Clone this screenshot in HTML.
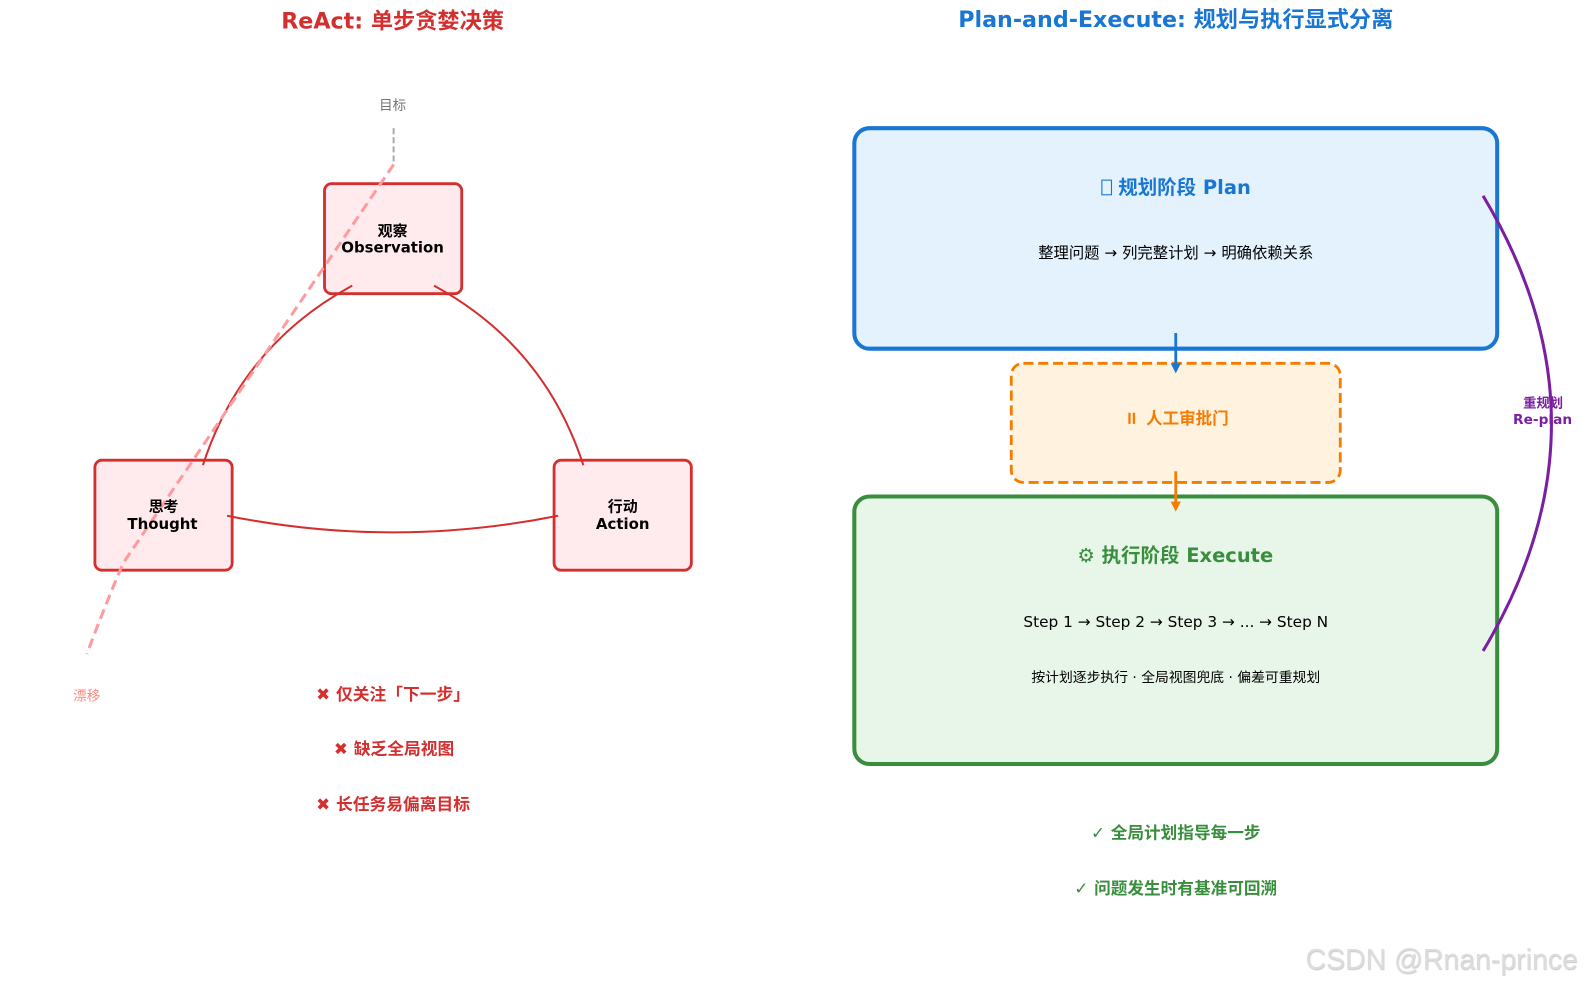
<!DOCTYPE html>
<html><head><meta charset="utf-8">
<style>
html,body{margin:0;padding:0;background:#fff;width:1582px;height:986px;overflow:hidden}
svg{display:block}
text{font-family:"DejaVu Sans","WenQuanYi Zen Hei","Noto Sans CJK SC",sans-serif;text-anchor:middle}
.b{font-weight:bold}
</style></head><body>
<svg width="1582" height="986" viewBox="0 0 1567.500 977" xmlns="http://www.w3.org/2000/svg">
<text x="389" y="28" class="b" font-size="22" fill="#d32f2f">ReAct: 单步贪婪决策</text>
<text x="1165" y="27" class="b" font-size="22" fill="#1976d2">Plan-and-Execute: 规划与执行显式分离</text>

<text x="389" y="109" font-size="13.400" fill="#757575">目标</text>
<path d="M390 127V163" fill="none" stroke="#aaa" stroke-width="2" stroke-dasharray="6 3"/>

<rect x="321.500" y="182" width="136" height="109" rx="7" fill="#ffebee" stroke="#d32f2f" stroke-width="2.800"/>
<rect x="94" y="456" width="136" height="109" rx="7" fill="#ffebee" stroke="#d32f2f" stroke-width="2.800"/>
<rect x="549" y="456" width="136" height="109" rx="7" fill="#ffebee" stroke="#d32f2f" stroke-width="2.800"/>

<path d="M201 461Q239.500 342.400 349 283" fill="none" stroke="#d32f2f" stroke-width="2"/>
<path d="M430 283Q539.500 342.400 578 461" fill="none" stroke="#d32f2f" stroke-width="2"/>
<path d="M225 511Q389 544 553 511" fill="none" stroke="#d32f2f" stroke-width="2"/>

<path d="M390 163L122 558Q104 600 86 648" fill="none" stroke="#ff9a9e" stroke-width="3" stroke-dasharray="10 5.500"/>

<text x="389" y="234" class="b" font-size="14.800" fill="#000">观察</text>
<text x="389" y="250" class="b" font-size="14.800" fill="#000">Observation</text>
<text x="162" y="507" class="b" font-size="14.800" fill="#000">思考</text>
<text x="161" y="524" class="b" font-size="14.800" fill="#000">Thought</text>
<text x="617" y="507" class="b" font-size="14.800" fill="#000">行动</text>
<text x="617" y="524" class="b" font-size="14.800" fill="#000">Action</text>

<text x="86" y="694" font-size="13.400" fill="#ff8a80">漂移</text>
<text x="389.500" y="693.500" class="b" font-size="16.600" fill="#d32f2f">✖ 仅关注「下一步」</text>
<text x="390.500" y="747.500" class="b" font-size="16.600" fill="#d32f2f">✖ 缺乏全局视图</text>
<text x="389.500" y="802.500" class="b" font-size="16.600" fill="#d32f2f">✖ 长任务易偏离目标</text>

<rect x="846.500" y="127" width="637" height="218.500" rx="15" fill="#e3f2fd" stroke="#1976d2" stroke-width="4"/>
<rect x="1002" y="360" width="326" height="118" rx="12" fill="#fff3e0" stroke="#f57c00" stroke-width="2.800" stroke-dasharray="10 4.700"/>
<rect x="846.500" y="492" width="637" height="265" rx="15" fill="#e8f5e9" stroke="#388e3c" stroke-width="4"/>

<rect x="1091.800" y="178.500" width="9.500" height="14.500" fill="none" stroke="#1976d2" stroke-width="1.100"/>
<text x="1108" y="192" class="b" font-size="19.300" fill="#1976d2" style="text-anchor:start">规划阶段 Plan</text>
<text x="1165" y="255.500" font-size="15.200" fill="#000">整理问题 → 列完整计划 → 明确依赖关系</text>
<rect x="1118" y="409" width="2.300" height="11" fill="#f57c00"/>
<rect x="1122.400" y="409" width="2.300" height="11" fill="#f57c00"/>
<text x="1135.500" y="420" class="b" font-size="16.400" fill="#f57c00" style="text-anchor:start">人工审批门</text>
<text x="1164.500" y="557" class="b" font-size="19.300" fill="#388e3c">⚙ 执行阶段 Execute</text>
<text x="1165" y="621.500" font-size="15.200" fill="#000">Step 1 → Step 2 → Step 3 → ... → Step N</text>
<text x="1165" y="676" font-size="13.700" fill="#000">按计划逐步执行 · 全局视图兜底 · 偏差可重规划</text>

<path d="M1165 330V362" stroke="#1976d2" stroke-width="2.800" fill="none"/>
<path d="M1160 360L1165 370L1170 360Z" fill="#1976d2"/>
<path d="M1165 467V499" stroke="#f57c00" stroke-width="2.800" fill="none"/>
<path d="M1160 497L1165 507L1170 497Z" fill="#f57c00"/>

<text x="1529" y="404" class="b" font-size="13.200" fill="#7b1fa2">重规划</text>
<text x="1528.500" y="420" class="b" font-size="13.600" fill="#7b1fa2">Re-plan</text>
<path d="M1469.500 194Q1605 419.500 1469.500 645" fill="none" stroke="#7b1fa2" stroke-width="3"/>

<text x="1165" y="831" class="b" font-size="16.500" fill="#388e3c">✓ 全局计划指导每一步</text>
<text x="1165" y="886" class="b" font-size="16.500" fill="#388e3c">✓ 问题发生时有基准可回溯</text>

<text x="1428.500" y="960" font-size="28.200" fill="#dcdcdc" style="font-family:'Liberation Sans',sans-serif;text-shadow:0.500px 1px 1px #c8c8c8">CSDN @Rnan-prince</text>
</svg>
</body></html>
